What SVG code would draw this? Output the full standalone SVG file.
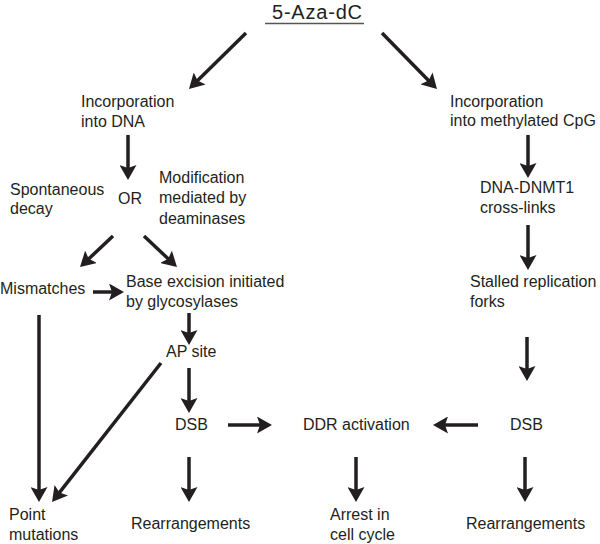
<svg xmlns="http://www.w3.org/2000/svg" width="600" height="544" viewBox="0 0 600 544">
<style>
text{font-family:"Liberation Sans",Arial,sans-serif;font-size:16px;fill:#231f20}
.title{font-size:20px}
.c line{stroke:#231f20;stroke-width:3.5;fill:none;marker-end:url(#ah)}
</style>
<defs>
<marker id="ah" markerUnits="userSpaceOnUse" viewBox="0 0 16 17" refX="5" refY="8.5" markerWidth="16" markerHeight="17" orient="auto">
<path d="M0,0 L15,8.5 L0,17 L3,8.5 Z" fill="#231f20"/>
</marker>
</defs>
<rect width="600" height="544" fill="#fff"/>
<g id="n-aza"><text class="title" x="272" y="19" textLength="90">5-Aza-dC</text><line x1="265" y1="23.5" x2="364" y2="23.5" stroke="#555" stroke-width="1.5"/></g>
<g id="n-incdna"><text x="81" y="107">Incorporation</text><text x="81" y="127">into DNA</text></g>
<g id="n-spont"><text x="10" y="195">Spontaneous</text><text x="10" y="214">decay</text></g>
<g id="n-or"><text x="118" y="204">OR</text></g>
<g id="n-mod"><text x="159" y="183">Modification</text><text x="159" y="203">mediated by</text><text x="159" y="224">deaminases</text></g>
<g id="n-mism"><text x="0" y="294">Mismatches</text></g>
<g id="n-bex"><text x="126" y="287">Base excision initiated</text><text x="126" y="307">by glycosylases</text></g>
<g id="n-inccpg"><text x="450" y="107">Incorporation</text><text x="450" y="126">into methylated CpG</text></g>
<g id="n-dnmt"><text x="480" y="193">DNA-DNMT1</text><text x="480" y="213">cross-links</text></g>
<g id="n-stall"><text x="470" y="287">Stalled replication</text><text x="470" y="307">forks</text></g>
<g id="n-ap"><text x="166" y="357">AP site</text></g>
<g id="n-dsb1"><text x="175" y="430">DSB</text></g>
<g id="n-ddr"><text x="303" y="430">DDR activation</text></g>
<g id="n-dsb2"><text x="510" y="430">DSB</text></g>
<g id="n-point"><text x="9" y="520">Point</text><text x="9" y="540">mutations</text></g>
<g id="n-rear1"><text x="131" y="529">Rearrangements</text></g>
<g id="n-arrest"><text x="330" y="520">Arrest in</text><text x="330" y="540">cell cycle</text></g>
<g id="n-rear2"><text x="466" y="529">Rearrangements</text></g>
<g id="connectors" class="c">
<line x1="246" y1="33" x2="196.1" y2="82"/>
<line x1="382" y1="33" x2="430" y2="81.9"/>
<line x1="128" y1="135" x2="128" y2="170"/>
<line x1="113" y1="236" x2="87.3" y2="260.2"/>
<line x1="144" y1="236" x2="169.7" y2="260.2"/>
<line x1="93" y1="292" x2="114" y2="292"/>
<line x1="528" y1="135" x2="528" y2="168"/>
<line x1="528" y1="225" x2="528" y2="260"/>
<line x1="39" y1="315" x2="39" y2="492"/>
<line x1="189" y1="313" x2="189" y2="335"/>
<line x1="161" y1="363" x2="58.2" y2="494.1"/>
<line x1="189" y1="368" x2="189" y2="403"/>
<line x1="527" y1="337" x2="527" y2="371"/>
<line x1="228" y1="425" x2="262" y2="425"/>
<line x1="478" y1="425" x2="443" y2="425"/>
<line x1="189" y1="457" x2="189" y2="492"/>
<line x1="356" y1="457" x2="356" y2="492"/>
<line x1="525" y1="457" x2="525" y2="492"/>
</g>
</svg>
